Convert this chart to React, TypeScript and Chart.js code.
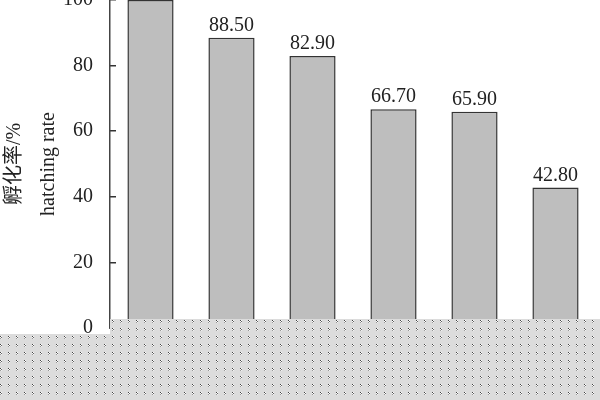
import React, { useEffect, useRef } from "react";
import { Chart, registerables } from "chart.js";

Chart.register(...registerables);

const categories = ["1", "2", "3", "4", "5", "6"];
const hatchingRate = [100, 88.5, 82.9, 66.7, 65.9, 42.8];
const yTicks = [0, 20, 40, 60, 80, 100];
const axisTitle = ["孵化率/%", "hatching rate"];

const SHIFT = 35; // canvas is shifted up so the top of the axis is cropped like the reference
const CANVAS_H = 435;

const valueLabels = {
  id: "valueLabels",
  afterDatasetsDraw(chart: any) {
    const ctx = chart.ctx;
    const meta = chart.getDatasetMeta(0);
    ctx.save();
    ctx.font = '20px "Liberation Serif", "Times New Roman", serif';
    ctx.fillStyle = "#222";
    ctx.textAlign = "center";
    ctx.textBaseline = "alphabetic";
    meta.data.forEach((bar: any, i: number) => {
      ctx.fillText(hatchingRate[i].toFixed(2), bar.x, bar.y - 7);
    });
    ctx.restore();
  },
};

const dottedMask = {
  id: "dottedMask",
  afterDraw(chart: any) {
    const ctx = chart.ctx;
    const w = chart.width;
    const y1 = 319 + SHIFT;
    const y2 = 334 + SHIFT;
    const yEnd = CANVAS_H;
    ctx.save();
    ctx.fillStyle = "#dcdcdc";
    ctx.fillRect(110, y1, w - 110, y2 - y1);
    ctx.fillRect(0, y2, w, yEnd - y2);
    for (let y = y1 + 1; y < yEnd; y += 8) {
      for (let x = 0; x < w; x += 8) {
        if (y < y2 && x < 112) continue;
        ctx.fillStyle = "#444";
        ctx.fillRect(x, y, 1, 1);
        ctx.fillStyle = "#fff";
        ctx.fillRect(x + 1, y, 1, 1);
        ctx.fillRect(x, y + 1, 1, 1);
        ctx.fillStyle = "#666";
        ctx.fillRect(x + 1, y + 1, 1, 1);
        ctx.fillStyle = "#999";
        ctx.fillRect(x, y + 2, 1, 1);
        ctx.fillStyle = "#f4f4f4";
        ctx.fillRect(x + 1, y + 2, 1, 1);
      }
    }
    ctx.restore();
  },
};

export default function App() {
  const ref = useRef<HTMLCanvasElement | null>(null);

  useEffect(() => {
    if (!ref.current) return;
    const chart = new Chart(ref.current, {
      type: "bar",
      data: {
        labels: categories,
        datasets: [
          {
            data: hatchingRate,
            backgroundColor: "#bebebe",
            borderColor: "#333",
            borderWidth: 1.5,
            borderSkipped: false,
            categoryPercentage: 1,
            barPercentage: 0.57,
          },
        ],
      },
      options: {
        responsive: false,
        animation: false,
        layout: { padding: { top: 0, right: 4, bottom: 0, left: 0 } },
        plugins: {
          legend: { display: false },
          tooltip: { enabled: false },
          title: { display: false },
        },
        scales: {
          x: {
            grid: { display: false },
            border: { display: true, color: "#444", width: 1.5 },
            ticks: {
              color: "#222",
              font: { family: '"Liberation Serif", serif', size: 20 },
            },
            afterFit: (s: any) => {
              s.height = 72;
            },
          },
          y: {
            min: 0,
            max: 100,
            afterBuildTicks: (s: any) => {
              s.ticks = yTicks.map((v) => ({ value: v }));
            },
            grid: {
              drawOnChartArea: false,
              drawTicks: true,
              tickLength: -6,
              color: "#333",
              lineWidth: 1.5,
            },
            border: { display: true, color: "#444", width: 1.5 },
            ticks: {
              padding: 23,
              color: "#222",
              font: { family: '"Liberation Serif", serif', size: 20 },
            },
            title: {
              display: true,
              text: axisTitle,
              color: "#222",
              padding: { top: -2, bottom: 0 },
              font: {
                family: '"Liberation Serif", "Noto Sans CJK SC", serif',
                size: 20,
                lineHeight: 1.7,
              },
            },
            afterFit: (s: any) => {
              s.width = 110;
            },
          },
        },
      },
      plugins: [valueLabels, dottedMask],
    });
    return () => chart.destroy();
  }, []);

  return (
    <div
      style={{
        position: "fixed",
        left: 0,
        top: 0,
        width: 600,
        height: 400,
        overflow: "hidden",
        background: "#fff",
      }}
    >
      <canvas
        ref={ref}
        width={600}
        height={CANVAS_H}
        style={{ position: "absolute", left: 0, top: -SHIFT, width: 600, height: CANVAS_H }}
      />
    </div>
  );
}
